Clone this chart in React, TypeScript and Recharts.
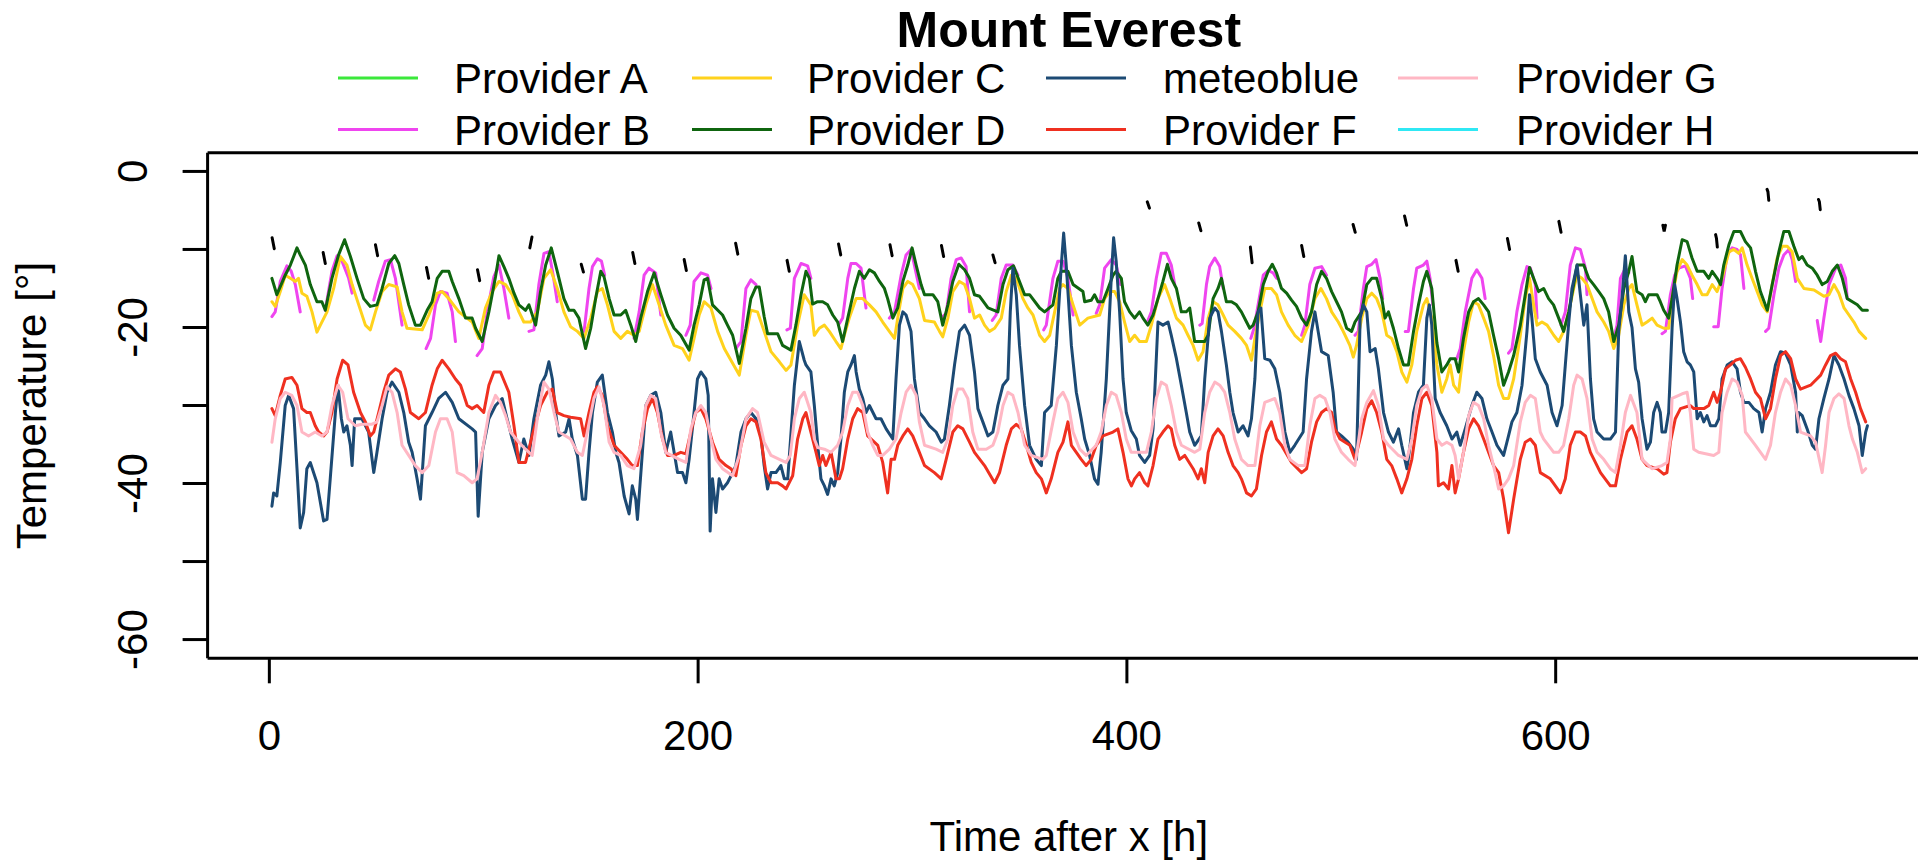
import React from 'react';
import { LineChart, Line, XAxis, YAxis, ReferenceLine, Legend, Label } from 'recharts';

type Pt = [number, number];

const chartTitle = 'Mount Everest';
const xTitle = 'Time after x [h]';
const yTitle = 'Temperature [°]';
const seriesNames = ['Provider A', 'Provider B', 'Provider C', 'Provider D', 'meteoblue', 'Provider F', 'Provider G', 'Provider H'];
const seriesColors = ['#3be83b', '#ef45ef', '#ffd21c', '#0f650f', '#1c4a74', '#ef3020', '#ffb7c4', '#2fe8f4'];
const xTicks = [0, 200, 400, 600];
const yTicks = [0, -10, -20, -30, -40, -50, -60];
const yLabelled = [0, -20, -40, -60];

const providerA: Pt[] = [];
const providerH: Pt[] = [];

const providerB: Pt[][] = [
  [[1.2,-18.6],[2.75,-18],[5.1,-14.1],[8.2,-12.1],[10.2,-12.8],[12.1,-14.5],[14.4,-18]],
  [[26.1,-17.8],[29.2,-12.8],[31.6,-10.8],[33.9,-11.5],[37,-13.7],[38.6,-15.6]],
  [[48.7,-16.5],[51,-14.1],[54.1,-11.5],[56.5,-11.3],[58.8,-13.7],[61.9,-19.7]],
  [[73.1,-22.7],[75.2,-21.4],[77.5,-17.1],[79.8,-15.4],[82.9,-15.6],[85.3,-18],[86.8,-21.8]],
  [[96.9,-23.6],[99.3,-22.7],[101.6,-18],[104.7,-13.5],[107.1,-12],[109.4,-15],[111.7,-18.8]],
  [[121.1,-20.5],[123.4,-20.3],[125.7,-14.5],[128.1,-10.5],[130.4,-10.3],[132.4,-13.3],[134.3,-16.7]],
  [[146.8,-20.5],[149.1,-15],[150.7,-12.2],[153,-11.2],[154.9,-11.5],[156.4,-13.3]],
  [[170.1,-21.4],[172.5,-18],[174.8,-13.3],[177.1,-12.4],[180.2,-13],[182.6,-18.4]],
  [[194.3,-21],[196.3,-19.7],[198.1,-14.1],[201.3,-13],[204.4,-13.3],[206,-15]],
  [[217.6,-22.7],[220,-21.8],[222.3,-15],[224.6,-13.9],[227,-14.5]],
  [[241.4,-20.3],[243,-20.1],[244.9,-13.7],[248,-11.8],[251.1,-12.1],[252.6,-13.7]],
  [[265.9,-19.5],[267.4,-18.8],[269.8,-13.7],[271.3,-11.8],[273.7,-11.8],[276,-12.4],[278.3,-17.5]],
  [[289.2,-18.8],[291.6,-18],[294.7,-13.3],[297,-10.7],[299.3,-10],[303.2,-15]],
  [[314.1,-18.6],[315.7,-18.2],[318,-13.7],[320.4,-11.3],[322.7,-11.1],[325,-12.2],[326.6,-18]],
  [[337.2,-19.1],[339,-18.4],[341.4,-13.7],[343.7,-12],[346.8,-12],[349.2,-13.3]],
  [[361.2,-20.3],[362.4,-19.7],[365.5,-13.7],[367.8,-11.5],[370.2,-11.5],[372.5,-13.7],[374.9,-18.4]],
  [[385.7,-18.2],[387.3,-17.1],[389.6,-12.4],[392.7,-11.3],[395,-12],[397.1,-14.5]],
  [[409.8,-19.1],[411.4,-18],[413.7,-13.7],[416,-10.5],[418.4,-10.5],[420.7,-12],[422.3,-14.5]],
  [[434,-19.7],[435.1,-19.5],[437.1,-14.5],[438.6,-12.2],[441,-11.1],[443.3,-12.2],[444.9,-15]],
  [[457.8,-21.4],[459.3,-20.1],[461.2,-17.1],[463.6,-13.3],[465.9,-12.7],[468.2,-13],[469.8,-13.7]],
  [[481.5,-21],[483,-19.7],[485.3,-14.5],[487.7,-12.4],[490.8,-12.2],[493.1,-13.3]],
  [[506.4,-21],[507.9,-20.5],[510.3,-15],[511.9,-12.2],[514.2,-11.9],[516.2,-11.3],[518.1,-13.7],[519.3,-16.3]],
  [[529.8,-20.5],[531.3,-20.5],[533.7,-15],[535.2,-12.4],[538.3,-12],[539.9,-11.5],[541.4,-13.7],[542.7,-17.1]],
  [[553.9,-24],[555.5,-22.7],[557.8,-18],[560.9,-13.7],[563.2,-12.6],[565.6,-13.7],[567.1,-16.3]],
  [[578,-23.3],[579.6,-22.7],[581.9,-18],[584.3,-14.5],[586.6,-12.2],[588.2,-12.4],[590.5,-14.5],[591.3,-18.8]],
  [[602.5,-19.7],[604.5,-18],[606.8,-12],[609.2,-9.8],[611.5,-10],[613.9,-12.4],[614.6,-15.8]],
  [[627.1,-21.4],[628.6,-19.7],[630.2,-13.7],[632.5,-12.4],[634.1,-13]],
  [[649.6,-20.8],[651.2,-20.5],[653.5,-15.8],[655.5,-13.3],[657.4,-12.4],[660.5,-12.1],[662.8,-13.7],[663.9,-16.3]],
  [[673.7,-19.9],[675.8,-19.9],[677.6,-15],[680,-10.7],[682.3,-9.8],[684.6,-10],[686.2,-10.7],[687.8,-15]],
  [[697.9,-20.5],[699.4,-20.1],[701.8,-15.8],[704.1,-12.4],[706.4,-10.7],[708.8,-10],[710.3,-11.3],[711.9,-14.1]],
  [[722,-19.1],[723.6,-21.8],[725.1,-18.8],[727.5,-14.5],[730.6,-12.4],[733,-12],[735.2,-13.7],[736,-16.3]],
];

const providerC: Pt[] = [
  [1.2,-16.7],[2.75,-17.3],[5.1,-15.4],[7.4,-13.3],[9.8,-13.7],[12.1,-14.1],[13.6,-13.7],[15.2,-15.6],[17.5,-16],[19.9,-18],[22.2,-20.6],[23.8,-19.7],[26.9,-18],[30,-15],[33.1,-10.9],[36.2,-12],[38.6,-14.5],[41.7,-17.1],[44.8,-19.7],[47.1,-20.3],[49.5,-18],[52.6,-15.4],[55.7,-14.5],[59.6,-14.8],[61.9,-18],[64.2,-20.1],[71.3,-20.3],[74.4,-18.4],[78.3,-15.6],[80.6,-15.4],[83.7,-16.3],[88.4,-18],[94.6,-19.3],[97.7,-21.4],[100.8,-17.5],[103.9,-15.4],[107.1,-14.1],[110.2,-14.5],[113.3,-15.8],[116.4,-18],[118.7,-19.3],[121.9,-19.3],
  [125,-18],[128.1,-13.7],[131.2,-12.6],[134.3,-15],[137.4,-18],[140.5,-19.9],[143.7,-20.5],[146.8,-21.4],[149.9,-18.8],[153,-15.4],[155.3,-15],[157.7,-17.1],[160.8,-20.5],[163.9,-21.4],[167,-20.5],[170.1,-21],[172.5,-20.5],[175.6,-17.1],[178.7,-14.5],[181.8,-17.1],[184.9,-19.7],[188.8,-22.3],[192.7,-22.7],[195.8,-24.2],[198.1,-21.4],[200.5,-18.4],[202.8,-16.7],[206,-17.5],[209.1,-20.5],[212.2,-22.7],[215.3,-24.2],[219.2,-26.1],[222.3,-21],[224.6,-17.8],[227.7,-18],[230.8,-20.5],[234,-23.1],[237.9,-24.4],[241,-25.5],[243.3,-24.8],[246.4,-19.7],[249.5,-15.8],[252.6,-17.1],
  [254.2,-21],[256.5,-20.1],[258.9,-19.7],[261.2,-20.5],[264.3,-21.8],[266.6,-22.7],[268.2,-21],[270.5,-18.8],[273.7,-16.3],[276.8,-16.3],[279.9,-17.1],[283,-18],[286.1,-19.3],[289.2,-20.5],[291.6,-21.4],[293.1,-18.8],[295.5,-15],[297.8,-14.1],[300.1,-14.5],[303.2,-16.3],[305.6,-19.1],[310.2,-19.3],[312.6,-20.5],[314.1,-21.2],[316.5,-18.8],[318.8,-15.4],[321.9,-14.1],[324.3,-14.5],[326.6,-16.3],[328.9,-18.8],[331.3,-18.4],[333.6,-19.7],[335.9,-20.5],[338.3,-20.1],[341.4,-18.8],[343.7,-15.4],[346.1,-13.3],[348.4,-13.7],[351.5,-16.3],[353.8,-17.5],[356.2,-18.4],[359.3,-21],[361.6,-21.8],[364,-21],[366.3,-18],[368.6,-15],[370.2,-14.5],[372.5,-15],[374.9,-17.1],[378,-19.7],
  [381.8,-18.8],[387.3,-18.4],[389.6,-16.3],[391.9,-15.4],[394.3,-15.4],[396.6,-16.7],[398.9,-19.3],[401.3,-21.8],[403.6,-21],[405.9,-21.8],[409.1,-21.8],[411.4,-19.7],[414.5,-16.3],[417.6,-14.5],[420,-16.3],[423.1,-18.8],[426.2,-19.7],[428.5,-21],[430.9,-22.3],[433.2,-24.2],[435.5,-23.1],[437.9,-18.8],[440.2,-16.7],[442.5,-17.1],[444.9,-18.4],[447.2,-19.7],[450.3,-20.5],[453.4,-21.4],[455.8,-22.3],[458.1,-24.2],[459.7,-21.4],[462,-18],[464.3,-15],[467.4,-15],[469.8,-15.8],[472.1,-18],[475.2,-19.7],[478.3,-21],[481.5,-21.8],[484.6,-19.7],[487.7,-16.3],[490.5,-15],[493.1,-16.3],[495.5,-18],[498.6,-19.3],[500.9,-20.5],[504,-22.3],[505.6,-23.8],[507.1,-22.3],
  [509.5,-18.8],[511.9,-16.3],[514.2,-15.6],[516.5,-16.3],[518.9,-18],[521.2,-21],[523.5,-21.4],[525.9,-23.1],[528.2,-25.7],[530.6,-27],[532.9,-24.8],[535.2,-20.5],[538.3,-17.1],[539.9,-16.3],[542.2,-18.8],[544.6,-24.8],[546.9,-28.3],[549.2,-26.6],[550.8,-24.8],[552.4,-27.4],[554.7,-28.3],[557,-23.1],[559.4,-19.3],[561.7,-16.7],[564,-17.1],[566.4,-18.8],[568.7,-20.5],[571,-23.6],[573.4,-27.4],[575.7,-29.1],[578,-29.1],[580.4,-26.6],[583.5,-21],[585.8,-16.3],[587.8,-13.7],[589.7,-17.1],[591.3,-19.7],[593.6,-19.3],[596,-19.7],[599.1,-21],[601.4,-21.8],[603.7,-20.5],[606.1,-18],[608.4,-15],[610,-13.3],[612.3,-13.7],[614.6,-14.5],[617,-16.3],[619.3,-18],[622.4,-19.3],[624.7,-20.5],[627.1,-22.7],[629.4,-21],[631.8,-17.1],[634.1,-15],[635.6,-14.5],
  [637.9,-17.1],[640.3,-19.7],[642.6,-19.3],[645,-18.8],[647.3,-19.7],[650.4,-20.1],[652.7,-20.1],[654.3,-16.3],[656.6,-12.8],[659,-11.3],[661.3,-12],[663.6,-13.3],[666,-14.5],[668.3,-15.8],[670.6,-15.8],[673,-14.5],[675.3,-15.4],[677.6,-13.7],[680.8,-10.3],[683.1,-10],[685.4,-10.5],[687,-9.8],[689.3,-12],[691.6,-13.7],[694,-15.4],[696.3,-17.1],[698.7,-18],[701,-14.5],[703.3,-11.1],[705.7,-9.6],[708,-9.6],[710.3,-10.3],[712.7,-13.7],[715.8,-15],[720.5,-15.2],[725.1,-16],[727.5,-15.8],[729.8,-14.5],[732.1,-15.6],[734.5,-17.5],[736.8,-18.4],[739.1,-19.3],[741.5,-20.5],[744.6,-21.4],
];

const providerD: Pt[] = [
  [1.2,-13.7],[3.5,-15.8],[7.4,-13.3],[9.8,-12],[12.9,-9.8],[14.4,-10.7],[16.8,-12],[19.1,-14.5],[22.2,-16.7],[24.5,-16.7],[26.1,-17.8],[29.2,-13.7],[32.3,-10.7],[35.1,-8.75],[37.8,-10.9],[40.9,-13.7],[44,-16.3],[47.1,-17.3],[50.2,-17.1],[52.6,-15],[55.7,-11.8],[58.5,-10.8],[60.4,-11.8],[62.7,-14.5],[65,-17.1],[68.1,-19.7],[70.5,-19.7],[73.6,-17.8],[75.9,-16.7],[78.3,-13.7],[80.6,-12.8],[83.7,-12.8],[85.3,-14.1],[88.4,-16.3],[91.5,-18.8],[94.6,-18.8],[96.2,-20.1],[99.3,-21.8],[102.4,-18],[105.5,-13.5],[107.1,-10.8],[109.4,-12.2],[111.7,-13.7],[114.1,-15.6],[116.4,-17.1],[119.5,-17.8],[121.1,-17.1],
  [124.2,-19.7],[126.5,-15.4],[128.9,-12],[131.5,-9.8],[134.3,-12.8],[137.4,-16.3],[139.8,-17.8],[142.1,-17.8],[144.4,-18.8],[147.5,-22.7],[149.9,-20.1],[152.2,-16.3],[154.6,-12.8],[156.1,-13.5],[158.5,-16.3],[160.8,-18.4],[163.9,-18.4],[166.2,-17.8],[168.6,-19.7],[170.9,-21.8],[173.2,-18.8],[176.4,-15.4],[179.5,-13],[182.6,-15.8],[185.7,-18.4],[188.8,-20.1],[191.9,-21],[195.8,-22.9],[198.1,-19.7],[200.5,-17.1],[202.8,-13.9],[204.4,-13.7],[206.7,-17.1],[211.4,-18.4],[213.7,-19.7],[216.1,-21],[219.2,-24.6],[222.3,-20.1],[224.6,-16.3],[227,-14.8],[228.5,-14.8],[230.8,-18.6],[232.4,-20.8],[237.1,-20.8],[239.4,-22.3],[243.3,-22.9],[245.6,-19.7],[248,-15.8],
  [250.3,-12.8],[251.9,-13.7],[253.4,-17],[255.7,-16.7],[258.1,-16.7],[260.4,-17.1],[262.8,-18.4],[265.1,-19.3],[267.4,-21.8],[269.8,-18.8],[272.9,-15],[275.2,-12.8],[277.5,-13.7],[279.9,-12.6],[282.2,-13],[284.6,-14.1],[286.9,-15],[288.4,-16.3],[290.8,-18.8],[293.1,-17.5],[295.5,-14.1],[297.8,-12],[299.8,-9.8],[301.7,-12],[304,-14.5],[305.6,-15.8],[309.5,-15.8],[311.8,-16.7],[314.1,-19.7],[316.5,-17.1],[318.8,-14.1],[321.6,-11.9],[324.3,-12.6],[326.6,-13.7],[328.9,-15.8],[331.3,-16],[335.2,-17.5],[339.8,-18],[342.2,-14.5],[344.5,-12.6],[347.1,-12.1],[349.9,-14.1],[352.3,-15.8],[354.6,-15.8],[359.3,-17.5],[361.6,-18],[365.5,-17.1],[367.8,-13.7],[369.4,-12.8],[372.5,-12.8],[374.9,-14.5],[379.5,-15.4],
  [380.3,-16.7],[383.4,-16.5],[384.9,-15.8],[386.5,-16.7],[388.8,-16.7],[391.2,-15],[393.5,-13.3],[395,-12.8],[397.4,-13.7],[398.9,-16.7],[401.3,-18],[403.6,-18.8],[405.9,-18],[407.5,-18.8],[409.8,-19.7],[412.2,-18.4],[414.5,-16.3],[416.8,-14.1],[418.9,-11.9],[420.7,-13.7],[423.1,-15],[425.4,-18],[427.7,-18],[429.3,-17.5],[431.6,-21.8],[436.3,-21.8],[437.9,-21],[440.2,-16.3],[442.5,-15],[444.1,-13.7],[446.4,-16.7],[448.8,-16.7],[451.1,-17.1],[453.4,-18],[455.8,-19.3],[457.3,-20.1],[458.9,-19.7],[461.2,-18],[463.6,-14.5],[465.9,-12.8],[467.8,-11.9],[469.8,-13],[472.1,-15],[474.5,-15.6],[476.8,-16.5],[479.1,-17.3],[481.5,-18.8],[483.8,-19.7],[486.1,-18],[488.5,-14.5],[490.8,-12.8],[493.1,-13.7],[495.5,-15.4],[497.8,-16.7],[500.1,-18],[502.5,-20.1],[504.8,-20.5],[506.4,-19.3],
  [509.5,-18],[511.9,-14.5],[514.2,-13.7],[516.5,-13.7],[518.9,-16.3],[520.4,-18.8],[522,-18],[524.3,-20.1],[526.7,-22.7],[529,-24.8],[531.3,-24.8],[533.7,-20.5],[536,-17.1],[538.3,-14.1],[539.9,-12.8],[542.2,-15],[544.6,-22],[546.9,-25.7],[549.2,-24.8],[550.8,-24],[553.1,-24],[554.7,-25.7],[557,-21.4],[559.4,-18],[561.7,-16.7],[564,-16.3],[566.4,-17.1],[568.7,-18],[571,-21],[573.4,-24],[575.7,-27.4],[578,-25.7],[580.4,-23.6],[583.5,-19.7],[585.8,-15.8],[587.8,-12.3],[589.7,-13.7],[592,-15.4],[594.4,-15],[596.7,-16.3],[599,-17.1],[601.4,-18.8],[603.7,-20.5],[606.1,-18],[608.4,-14.5],[610,-12],[613.1,-12],[615.4,-13.7],[617.7,-14.5],[620.1,-15.4],[622.4,-16.3],[624.7,-18],[627.1,-21.8],[629.4,-19.7],[631.8,-15],[634.1,-12.8],[635.6,-10.9],
  [637.9,-15.4],[640.3,-15.8],[641.8,-16.7],[643.4,-15.8],[647.3,-15.8],[648.8,-16.7],[650.4,-17.8],[652.7,-18.8],[654.3,-16.3],[656.6,-12],[659,-8.75],[661.3,-9],[663.6,-11.1],[666,-12.8],[669.1,-12.8],[671.4,-13.7],[673,-12.8],[675.3,-13.7],[676.9,-14.5],[678.4,-12],[680.8,-9.4],[683.1,-7.7],[686.2,-7.7],[688.5,-9],[690.9,-9.8],[693.2,-12.8],[695.5,-15.4],[698.7,-17.8],[701,-14.5],[704.1,-10.3],[706.4,-7.7],[708.8,-7.7],[711.1,-9.6],[713.4,-11.3],[715,-10.9],[717.3,-12],[719.7,-12.4],[722,-13.3],[724.3,-14.5],[726.7,-14.1],[729,-12.8],[731.4,-12],[733.7,-13.7],[736,-16.3],[738.4,-16.7],[740.7,-17.1],[743,-17.8],[745.4,-17.8],
];

const meteoblue: Pt[] = [
  [1.2,-42.9],[2,-41.2],[3.5,-41.6],[5.1,-37.3],[7.4,-30],[9,-28.7],[11.3,-30.4],[12.9,-38.1],[14.4,-45.7],[16,-43.7],[17.5,-38.1],[19.1,-37.3],[22.2,-39.9],[25.3,-44.8],[26.9,-44.6],[28.4,-39.4],[30.8,-30.9],[32,-27.4],[33.6,-31.7],[34.7,-33.4],[36.2,-32.6],[37.8,-35.1],[38.6,-37.7],[39.8,-31.7],[43.2,-31.7],[46.3,-33.4],[48.7,-38.6],[50.2,-36],[52.6,-31.7],[54.9,-28.3],[57.2,-27],[60.4,-28.3],[62.7,-30.9],[65,-34.7],[66.6,-36],[68.9,-39.4],[70.5,-42],[72.8,-32.6],[75.9,-30.9],[79,-29.1],[82.2,-28.3],[85.3,-29.6],[88.4,-31.7],[94.6,-33],[96.2,-33.4],[97.4,-44.2],[99.3,-36],[102.4,-31.7],[105.5,-30],[108.6,-29.1],[110.9,-31.7],[113.3,-34.3],[116.4,-37.3],[118.7,-34.3],[121.1,-36.4],
  [123.4,-31.7],[126.5,-27.4],[128.9,-26.1],[130.4,-24.4],[132,-26.6],[133.5,-30.9],[135.1,-33.9],[138.2,-33.4],[139.8,-31.7],[141.3,-34.3],[143.7,-36.4],[146,-42],[147.5,-42],[149.1,-36],[150.7,-30.9],[153,-27],[155.3,-26.1],[157.7,-30.9],[160,-33.4],[161.6,-36],[163.1,-37.3],[165.5,-41.6],[167.8,-43.9],[169.3,-40.3],[170.9,-42],[171.7,-44.6],[174,-36],[175.6,-30],[177.9,-28.7],[180.2,-28.3],[182.6,-30.9],[184.9,-36],[187.2,-33.4],[190.4,-38.6],[192.7,-38.6],[194.3,-39.9],[195.8,-36.9],[198.1,-30.9],[199.7,-26.6],[201.3,-25.7],[203.6,-26.6],[204.7,-28.7],[205.6,-46.1],[206.7,-39.4],[208.3,-43.7],[209.8,-39.4],[211.4,-40.7],[213.7,-39.9],[216.1,-38.6],[217.6,-37.7],[220,-33.4],[222.3,-31.7],[224.6,-30.9],[227,-31.7],[229.3,-33.9],[230.8,-37.7],[232.4,-40.7],[234,-38.6],[236.3,-38.6],[238.6,-37.7],[240.2,-39.4],[241.8,-39.4],[244.9,-27.4],[247.2,-21.8],[249.5,-24.2],
  [250.3,-24.8],[252.6,-25.7],[254.2,-30],[255.8,-35.1],[257.3,-39.4],[258.9,-40.3],[260.4,-41.4],[262,-39.4],[263.5,-40.3],[265.1,-38.6],[266.6,-34.3],[268.2,-28.3],[269.8,-25.7],[271.3,-24.8],[272.9,-23.6],[273.7,-25.7],[275.2,-27.9],[276.8,-29.1],[278.3,-30.9],[279.9,-30],[283,-31.7],[285.3,-31.7],[287.7,-33],[290.8,-34.3],[292.3,-26.6],[293.9,-19.7],[295.5,-18],[297,-18.4],[299.3,-20.5],[300.9,-26.6],[303.2,-30.9],[305.6,-31.7],[307.9,-32.6],[311,-33.4],[313.4,-34.7],[314.9,-34.3],[317.2,-30],[319.6,-24.8],[321.9,-20.5],[324.3,-19.7],[326.6,-21],[328.9,-25.7],[330.5,-30.4],[332.8,-32.1],[335.2,-33.9],[337.5,-33.4],[339.8,-30],[342.2,-27.4],[344.5,-26.6],[345.6,-18],[346.8,-12.4],[348.4,-15.8],[349.9,-22.3],[352.3,-30],[354.6,-35.1],[357.7,-36.9],[360.1,-37.7],[361.6,-30.9],[364.7,-30],[367.1,-22.3],[369.4,-12],[370.5,-7.9],[371.7,-12],[374.1,-22.3],[376.4,-28.3],[378.7,-31.7],
  [380.3,-34.3],[382.6,-36.4],[384.9,-39.4],[386.5,-40.1],[388,-36],[390.4,-26.6],[392.7,-13.7],[393.8,-8.5],[395,-11.5],[396.6,-18],[398.2,-26.6],[399.7,-30.9],[402,-33.2],[404.4,-34.3],[405.9,-36.4],[408.3,-37.3],[410.6,-36.4],[412.2,-33],[414.5,-19.3],[416.8,-19.7],[419.2,-19.3],[420.7,-21],[423.1,-24],[425.4,-27.4],[427.7,-30.9],[429.3,-33.4],[431.6,-35.1],[434.7,-33.9],[436.3,-26.6],[438.6,-18.8],[441,-17.5],[442.5,-18],[444.1,-20.5],[446.4,-24.8],[448,-28.3],[449.5,-30.9],[451.9,-33.4],[454.2,-32.6],[456.5,-33.9],[458.1,-31.7],[459.7,-26.6],[461.2,-18],[462.5,-17.5],[464.3,-24],[466.7,-24.2],[469,-25.3],[471.3,-28.3],[473.7,-33.4],[476,-36],[478.3,-35.1],[482.2,-33.4],[483.8,-26.6],[486.1,-20.5],[487.7,-18],[489.2,-20.5],[490.8,-23.1],[493.9,-23.6],[496.2,-28.3],[497.8,-33.4],[500.1,-33.9],[503.2,-34.7],[505.6,-35.6],[507.1,-36.9],
  [508.8,-18.8],[510.3,-17.1],[511.9,-18],[513.4,-23.1],[515.8,-22.7],[517.3,-25.3],[519.7,-30.9],[522,-33.4],[524.3,-34.7],[526.7,-33],[528.2,-35.1],[530.6,-38.1],[532.1,-35.1],[533.7,-30.9],[536,-28.3],[538.3,-27.4],[539.9,-18.8],[541.1,-17.1],[542.2,-19.7],[543.8,-29.1],[546.1,-30.9],[549.2,-32.6],[551.6,-34.3],[553.9,-33.4],[555.5,-35.1],[557.8,-33],[560.9,-30],[563.2,-28.3],[565.6,-29.1],[567.9,-31.7],[570.3,-33.4],[572.6,-35.1],[575.7,-36.4],[578,-33.9],[579.6,-32.1],[581.9,-30.9],[584.3,-27.4],[586.6,-20.5],[587.8,-15.8],[588.9,-18.8],[590.5,-24],[592.8,-25.7],[596,-27.4],[598.3,-30.9],[600.6,-32.6],[603,-30],[604.5,-24.8],[606.1,-19.3],[607.6,-15],[610,-12],[611.5,-15.8],[613.1,-19.7],[614.6,-17.1],[616.2,-26.6],[617.7,-31.7],[619.3,-33.4],[622.4,-34.3],[625.5,-34.3],[627.9,-33.4],[629.4,-20.5],[631,-16],[632.5,-10.8],[634.1,-18],[635.6,-20],
  [637.2,-25.3],[638.7,-27],[640.3,-31.7],[641.8,-34.3],[642.6,-35.6],[644.2,-34.7],[645.7,-30.9],[647.3,-29.6],[648.8,-30.9],[649.6,-33.4],[651.2,-33.4],[652.7,-30.9],[654.3,-20.1],[655.5,-14.5],[656.6,-16.3],[658.2,-19.3],[659.7,-23.1],[661.3,-24.4],[662.8,-24.8],[664.4,-25.7],[666,-31.7],[667.5,-30.9],[669.1,-32.1],[670.6,-31.3],[672.2,-32.6],[674.5,-32.6],[676.1,-31.7],[677.6,-26.6],[680,-24.8],[682.3,-24.4],[684.6,-25.3],[686.2,-28.3],[687.8,-29.6],[690.1,-29.6],[692.4,-30.4],[694.8,-30.9],[696.3,-33.4],[697.9,-30.4],[700.2,-28.3],[702.5,-24.8],[704.9,-23.1],[707.2,-23.3],[709.6,-24.8],[711.9,-28.3],[712.7,-33.4],[713.4,-30.9],[715,-31.3],[717.3,-33],[719.7,-35.1],[721.2,-35.6],[722.8,-31.7],[725.1,-29.1],[727.5,-26.6],[729.8,-23.6],[732.1,-24.8],[734.5,-26.6],[736.8,-28.7],[739.1,-30.4],[741.5,-32.6],[743,-36.4],[744.6,-33.4],[745.4,-32.6],
];

const providerF: Pt[] = [
  [1.2,-30.4],[2.75,-31.3],[5.1,-28.7],[7.4,-26.6],[10.5,-26.4],[12.9,-27.4],[15.2,-30.4],[17.5,-30.9],[19.1,-30.9],[21.4,-32.6],[23,-33.4],[25.3,-33.9],[26.9,-33.4],[29.2,-30.9],[31.6,-26.6],[34.2,-24.2],[36.7,-24.8],[39.3,-28.3],[42.5,-30.9],[44.8,-32.1],[47.1,-33.9],[48.7,-33.4],[51,-30.9],[53.3,-28.3],[55.7,-26.1],[58.8,-25.3],[61.1,-25.7],[63.5,-27.9],[65.8,-30.9],[69.7,-31.7],[72.8,-30.9],[75.9,-27.4],[78.3,-25.3],[80.6,-24.2],[83.7,-25.3],[86.8,-26.6],[89.2,-27.4],[92.3,-30],[94.6,-30.4],[96.9,-30],[100,-30.9],[102.4,-27.4],[104.7,-25.7],[107.8,-25.7],[111.7,-28.3],[114.1,-32.6],[116.4,-37.3],[119.5,-37.3],[122.6,-33.9],
  [126.5,-30],[129.6,-28.3],[132,-27.9],[134.3,-30.9],[137.4,-31.3],[140.5,-31.5],[145.2,-31.7],[146.8,-33.9],[149.1,-30.9],[151.4,-28.3],[153,-27.6],[155.3,-28.7],[157.7,-32.6],[160.8,-35.1],[163.9,-36],[167,-36.9],[169.3,-37.7],[171.7,-37.7],[174,-33.4],[176.4,-30.4],[178.7,-29.1],[181,-30.9],[183.4,-34.3],[185.7,-36.4],[188.8,-36.4],[191.9,-36],[194.3,-36.2],[196.6,-33.4],[198.9,-30.9],[201.3,-30.4],[203.6,-31.7],[206.7,-34.7],[209.8,-36.9],[213,-37.7],[215.3,-38.1],[217.6,-39],[220,-35.1],[222.3,-32.6],[224.6,-31.7],[227,-32.1],[229.3,-34.3],[231.6,-38.6],[234,-39.9],[237.1,-39.9],[239.4,-40.3],[241,-40.7],[244.1,-39],[246.4,-34.3],[248.8,-31.7],
  [250.3,-30.9],[252.6,-33.4],[255,-36],[256.5,-37.7],[258.1,-36.4],[259.6,-37.7],[262,-36],[264.3,-39.4],[265.9,-39.4],[267.4,-38.1],[269.8,-34.3],[272.1,-31.7],[274.4,-30.4],[276.8,-30.9],[279.1,-33.9],[283.8,-35.1],[286.1,-37.3],[288.4,-41.2],[290,-36.9],[291.6,-36.9],[293.1,-35.1],[295.5,-33.9],[297.8,-33],[300.1,-33.9],[303.2,-36],[305.6,-37.7],[310.2,-38.6],[313.4,-39.4],[315.7,-36.9],[318.8,-33.4],[321.1,-32.6],[323.5,-33],[326.6,-34.7],[328.9,-36],[333.6,-37.7],[338.3,-39.9],[340.6,-38.6],[343.7,-35.1],[346.1,-33],[348.4,-32.4],[350.7,-33],[353.1,-35.1],[355.4,-37.3],[357.7,-38.6],[360.1,-39.4],[362.4,-41.2],[364.7,-39.4],[367.8,-36],[370.2,-34.7],[372.5,-32.1],[374.1,-35.1],[376.4,-36],
  [378.7,-36.9],[381,-37.7],[383.4,-36.9],[385.7,-35.1],[388.8,-33.9],[393.5,-33.4],[395.8,-33],[398.2,-36],[400.5,-39.4],[402.1,-40.3],[403.6,-39.4],[405.9,-38.6],[408.3,-39.9],[409.8,-40.3],[412.2,-37.7],[414.5,-34.3],[416.8,-33.4],[419.2,-32.6],[420.7,-33],[422.3,-35.1],[424.6,-36.9],[427,-36.4],[430.9,-38.1],[433.2,-39.4],[434.7,-38.1],[436.3,-39.9],[437.9,-36],[440.2,-33.9],[442.5,-33],[444.9,-33.9],[447.2,-36],[449.5,-37.7],[451.9,-38.6],[453.4,-39.4],[455.8,-41.2],[458.1,-41.6],[460.4,-40.7],[462.8,-36.4],[465.1,-33.4],[467.4,-32.1],[469.8,-34.3],[472.1,-35.1],[476.8,-37.3],[481.5,-38.6],[483.8,-38.1],[486.1,-34.7],[488.5,-32.1],[490.8,-30.9],[493.1,-30.4],[495.5,-30.9],[497,-33],[499.4,-34.3],[504,-35.1],[506.4,-36.9],
  [509.5,-33.4],[511.9,-30.4],[514.2,-29.4],[516.5,-30.9],[518.9,-33.4],[521.2,-36.9],[523.5,-37.7],[525.9,-39.4],[528.2,-41.2],[530.6,-39.4],[532.9,-36.9],[535.2,-32.6],[537.6,-29.1],[539.9,-28.3],[542.2,-30],[544.6,-36],[545.3,-40.3],[547.7,-39.9],[550,-40.7],[551.6,-37.7],[553.1,-41.2],[554.7,-39.4],[557,-36],[559.4,-33],[561.7,-31.7],[564,-32.6],[566.4,-34.3],[568.7,-36],[571,-37.7],[573.4,-38.6],[575.7,-42],[578,-46.3],[580.4,-42],[583.5,-36.9],[585.8,-34.7],[588.2,-34.3],[590.5,-35.1],[592.8,-38.6],[597.5,-39.4],[602.2,-41.2],[604.5,-39.4],[606.8,-35.1],[609.2,-33.4],[611.5,-33.4],[613.9,-33.9],[616.2,-36],[620.9,-38.6],[625.5,-40.3],[627.9,-40.3],[630.2,-36.9],[633.3,-33.4],[635.6,-32.6],
  [637.9,-34.3],[640.3,-36.9],[642.6,-37.7],[647.3,-38.1],[650.4,-38.8],[651.9,-38.6],[653.5,-34.7],[655.8,-31.7],[658.2,-30.4],[662.8,-30],[664.4,-30.4],[669.1,-30.4],[671.4,-30],[673.7,-28.3],[675.3,-29.6],[676.9,-28.3],[679.2,-25.3],[681.5,-24.8],[683.9,-24.2],[686.2,-24],[688.5,-25.1],[690.9,-26.6],[693.2,-28.3],[695.5,-29.1],[697.9,-31.7],[700.2,-30.4],[702.5,-26.6],[704.9,-23.6],[707.2,-23.1],[709.6,-24],[711.9,-26.6],[714.2,-27.9],[718.9,-27.4],[723.6,-26.1],[725.9,-24.8],[728.2,-23.6],[730.6,-23.3],[732.9,-24],[735.2,-24.4],[737.6,-26.6],[739.9,-28.3],[742.2,-30.4],[744.6,-32.1],
];

const providerG: Pt[] = [
  [1.2,-34.7],[2.75,-31.7],[5.1,-29.1],[7.4,-28.3],[10.5,-28.7],[12.9,-30],[15.2,-33.4],[18.3,-33.9],[21.4,-33.4],[24.5,-33.9],[26.9,-33.4],[29.2,-30],[32,-27.4],[34.2,-28.3],[36.7,-31.7],[40.1,-32.6],[43.2,-32.4],[47.9,-32.4],[50.2,-32.1],[52.6,-30],[54.9,-27.6],[57.2,-28.3],[59.6,-30.9],[61.9,-35.1],[65,-36.4],[68.1,-37.7],[71.3,-38.6],[74.4,-37.7],[77.5,-33.4],[79.8,-31.7],[82.9,-31.7],[85.3,-33.4],[87.6,-38.6],[90.7,-39],[94.6,-39.9],[96.9,-39.4],[99.3,-36],[102.4,-30.9],[105.5,-28.7],[107.8,-29.6],[110.2,-31.3],[112.5,-33.4],[116.4,-34.7],[119.5,-35.6],[122.6,-36.4],
  [125,-31.7],[128.1,-27],[130.4,-27.9],[132.8,-30.9],[135.1,-33.4],[140.5,-34.3],[143.7,-36],[146,-36.4],[148.3,-33.4],[151.4,-29.1],[153.8,-27.6],[156.1,-30],[158.5,-34.7],[160.8,-36],[163.9,-36.4],[167,-37.7],[170.1,-38.1],[173.2,-35.1],[175.6,-30],[177.9,-28.7],[180.2,-29.1],[182.6,-33.4],[184.9,-36],[191.1,-36.9],[194.3,-37.3],[196.6,-33],[198.9,-30.9],[201.3,-30],[203.6,-30.9],[206,-34.3],[208.3,-36.9],[211.4,-38.1],[216.1,-39],[219.2,-36.4],[222.3,-31.7],[225.4,-30.4],[227.7,-30.9],[230.8,-34.7],[234,-36.4],[237.9,-36.9],[241,-37.3],[243,-36.4],[244.9,-31.7],[247.2,-29.1],[249.5,-28.3],
  [252.6,-30.9],[254.2,-34.3],[255.8,-35.4],[258.9,-35.6],[262,-36],[265.1,-35.1],[267.4,-33.4],[269.8,-30],[272.1,-28.3],[274.4,-28.3],[276.8,-30],[279.1,-33.4],[281.4,-35.1],[283.8,-36.4],[286.1,-36.4],[289.2,-35.6],[292.3,-34.3],[294.7,-30.9],[297,-28.3],[299.3,-27.4],[301.7,-28.7],[303.2,-32.1],[305.6,-35.1],[311,-35.6],[314.1,-36],[316.5,-34.3],[318.8,-30],[321.1,-27.9],[323.5,-27.9],[325.8,-29.1],[328.1,-33.4],[330.5,-35.6],[334.4,-35.6],[337.5,-35.1],[339.8,-33.4],[342.2,-30],[344.5,-28.3],[346.8,-28.7],[349.2,-30.9],[352.3,-35.1],[355.4,-36.4],[360.8,-36.9],[362.4,-36.4],[365.5,-32.1],[367.8,-29.1],[370.2,-28.3],[372.5,-29.6],[374.9,-33.4],[378,-35.6],
  [381,-36.4],[385.7,-35.1],[388,-33.4],[390.4,-30],[392.7,-28.3],[395,-28.7],[397.4,-30.9],[399.7,-34.3],[402,-36],[409.1,-36],[411.4,-33.4],[413.7,-29.1],[416,-27],[418.4,-27.4],[420.7,-30],[423.1,-33.4],[425.4,-35.1],[431.6,-36],[434,-35.6],[436.3,-30.9],[438.6,-28.3],[441,-27],[443.3,-27.4],[445.6,-28.3],[448,-30.9],[450.3,-34.3],[453.4,-36.9],[456.5,-37.7],[459.7,-37.7],[462,-32.6],[464.3,-29.6],[469,-29.1],[471.3,-30.9],[473.7,-35.1],[476,-36.9],[479.9,-37.7],[483,-37.7],[485.3,-32.6],[487.7,-29.1],[490,-28.7],[492.4,-29.1],[494.7,-30.9],[497,-34.3],[500.1,-36],[503.2,-36.9],[506.4,-37.7],
  [509.5,-31.7],[511.9,-29.6],[515,-28.1],[517.3,-30],[519.7,-34.3],[522,-35.1],[526.7,-36.4],[530.6,-36.9],[532.9,-34.3],[535.2,-30],[537.6,-27.9],[539.9,-27.4],[542.2,-29.1],[544.6,-34.3],[546.9,-35.1],[549.2,-34.7],[551.6,-35.1],[553.1,-36.4],[554.7,-39.4],[557,-36],[559.4,-31.3],[561.7,-29.6],[564,-30],[566.4,-31.7],[568.7,-35.1],[571,-37.7],[573.4,-40.7],[575.7,-40.3],[578,-39.4],[580.4,-37.7],[583.5,-32.1],[585.8,-29.6],[588.2,-28.7],[590.5,-29.1],[592.8,-33.4],[594.4,-34.3],[599.1,-36],[601.4,-36],[603.7,-35.1],[606.1,-31.7],[608.4,-27.4],[610,-26.1],[612.3,-26.6],[614.6,-29.1],[617,-34.3],[619.3,-36],[622.4,-36.9],[625.5,-38.1],[627.9,-38.6],[630.2,-35.1],[632.5,-30.9],[634.9,-28.7],
  [637.9,-30.9],[640.3,-36.9],[644.9,-38.1],[649.6,-37.7],[651.9,-37.3],[653.5,-34.3],[654.3,-29.1],[659,-28.5],[661.3,-28.3],[662.8,-30.9],[664.4,-35.6],[666.7,-36],[673.7,-36.4],[676.1,-36],[677.6,-30.9],[680,-28.3],[682.3,-26.6],[684.6,-27],[687,-28.7],[688.5,-33.4],[693.2,-35.1],[697.9,-36.9],[700.2,-35.1],[702.5,-30.9],[704.9,-28.3],[707.2,-26.6],[709.6,-27.4],[711.9,-30],[714.2,-33.4],[718.9,-33.9],[721.2,-34.7],[724.3,-38.6],[725.9,-35.1],[727.5,-30.9],[729.8,-29.1],[732.1,-28.5],[734.5,-29.1],[736.8,-32.6],[738.4,-34.3],[740.7,-36],[743,-38.6],[744.6,-38.1],
];

const blackMarks: Pt[][] = [
  [[1.3,-8.5],[2.3,-9.9]],[[25.1,-10.4],[26.1,-11.8]],[[49.5,-9.4],[50.5,-10.8]],[[73.3,-12.3],[74.3,-13.7]],
  [[97.1,-12.6],[98.1,-14]],[[121.5,-9.8],[122.5,-8.4]],[[145.5,-11.9],[146.5,-12.9]],[[169.5,-10.4],[170.5,-11.8]],
  [[193.5,-11.3],[194.5,-12.7]],[[217.5,-9.2],[218.5,-10.6]],[[241.5,-11.4],[242.5,-12.8]],[[265.5,-9.3],[266.5,-10.7]],
  [[289.5,-9.4],[290.5,-10.8]],[[313.5,-9.5],[314.5,-10.9]],[[337.5,-10.7],[338.5,-11.7]],[[409.5,-3.9],[410.5,-4.7]],
  [[433.5,-6.6],[434.5,-7.6]],[[457.6,-9.7],[458.4,-11.7]],[[481.5,-9.5],[482.5,-10.9]],[[505.5,-6.8],[506.5,-7.8]],
  [[529.5,-5.7],[530.5,-6.9]],[[553.5,-11.4],[554.5,-12.8]],[[577.5,-8.6],[578.5,-10]],[[601.5,-6.4],[602.5,-7.8]],
  [[650,-6.9],[650.6,-7.7],[651.2,-6.9]],[[674.6,-8.1],[675,-8.6],[675.4,-9.7]],[[698.6,-2.3],[699,-2.6],[699.4,-3.7]],
  [[722.6,-3.6],[723,-3.9],[723.4,-4.9]],
];

type Row = { h: number; t: number | null };
const toRows = (pts: Pt[]): Row[] => pts.map(([h, t]) => ({ h, t }));
const segRows = (segs: Pt[][]): Row[] => {
  const rows: Row[] = [];
  segs.forEach((s, i) => {
    if (i > 0) {
      const prev = segs[i - 1];
      rows.push({ h: (prev[prev.length - 1][0] + s[0][0]) / 2, t: null });
    }
    s.forEach(([h, t]) => rows.push({ h, t }));
  });
  return rows;
};

const FONT = '"Liberation Sans", Arial, Helvetica, sans-serif';
const W = 1918;
const H = 861;
const X_MIN = -28.8;
const X_MAX = 769;
const Y_MIN = -62.4;
const Y_MAX = 2.4;
const LEGEND_H = 175;

const seriesRows: Row[][] = [
  toRows(providerA), segRows(providerB), toRows(providerC), toRows(providerD),
  toRows(meteoblue), toRows(providerF), toRows(providerG), toRows(providerH),
];

const XTick = (props: any) => {
  const { x, payload } = props;
  return (
    <text x={x} y={750} textAnchor="middle" fontSize={42} fontFamily={FONT} fill="#000">
      {String(payload.value)}
    </text>
  );
};

const YTick = (props: any) => {
  const { y, payload } = props;
  if (!yLabelled.includes(payload.value)) return <g />;
  return (
    <text x={147} y={y} transform={`rotate(-90, 147, ${y})`} textAnchor="middle" fontSize={42} fontFamily={FONT} fill="#000">
      {String(payload.value)}
    </text>
  );
};

const legendCols = [
  { x1: 338, x2: 418, tx: 454 },
  { x1: 692, x2: 772, tx: 807 },
  { x1: 1046, x2: 1126, tx: 1163 },
  { x1: 1398, x2: 1478, tx: 1516 },
];
const legendRows = [{ ly: 78, ty: 93 }, { ly: 129.5, ty: 145 }];

const LegendContent = () => (
  <svg width={W} height={LEGEND_H} style={{ display: 'block', overflow: 'visible' }}>
    <text x={1068.8} y={47} textAnchor="middle" fontSize={50} fontWeight="bold" fontFamily={FONT} fill="#000">
      {chartTitle}
    </text>
    {seriesNames.map((name, i) => {
      const c = legendCols[Math.floor(i / 2)];
      const r = legendRows[i % 2];
      return (
        <g key={name}>
          <line x1={c.x1} x2={c.x2} y1={r.ly} y2={r.ly} stroke={seriesColors[i]} strokeWidth={3} />
          <text x={c.tx} y={r.ty} fontSize={42} fontFamily={FONT} fill="#000">{name}</text>
        </g>
      );
    })}
  </svg>
);

export default function App() {
  return (
    <div style={{ position: 'fixed', left: 0, top: 0, width: W, height: H, background: '#fff' }}>
      <LineChart width={W} height={H} margin={{ top: 152.7, right: 0, bottom: 0, left: 0 }}>
        <XAxis
          type="number"
          dataKey="h"
          domain={[X_MIN, X_MAX]}
          allowDataOverflow
          ticks={xTicks}
          interval={0}
          height={202.7}
          axisLine={false}
          tickLine={{ stroke: '#000', strokeWidth: 3 }}
          tickSize={25}
          tickMargin={0}
          tick={<XTick />}
        >
          <Label
            content={() => (
              <text x={1068.8} y={851} textAnchor="middle" fontSize={42} fontFamily={FONT} fill="#000">{xTitle}</text>
            )}
          />
        </XAxis>
        <YAxis
          type="number"
          domain={[Y_MIN, Y_MAX]}
          allowDataOverflow
          ticks={yTicks}
          interval={0}
          width={207.6}
          axisLine={false}
          tickLine={{ stroke: '#000', strokeWidth: 3 }}
          tickSize={25}
          tickMargin={0}
          tick={<YTick />}
        >
          <Label
            content={() => (
              <text x={46} y={405.5} transform="rotate(-90, 46, 405.5)" textAnchor="middle" fontSize={42} fontFamily={FONT} fill="#000">{yTitle}</text>
            )}
          />
        </YAxis>
        <Legend
          layout="horizontal"
          verticalAlign="middle"
          align="center"
          content={<LegendContent />}
          wrapperStyle={{ position: 'absolute', top: 0, left: 0, width: W, height: LEGEND_H, pointerEvents: 'none' }}
        />
        {seriesRows.map((rows, i) => (
          <Line
            key={seriesNames[i]}
            name={seriesNames[i]}
            data={rows}
            dataKey="t"
            type="linear"
            stroke={seriesColors[i]}
            strokeWidth={3}
            strokeLinejoin="round"
            strokeLinecap="round"
            dot={false}
            activeDot={false}
            connectNulls={false}
            isAnimationActive={false}
          />
        ))}
        <Line
          name="marks"
          data={segRows(blackMarks)}
          dataKey="t"
          type="linear"
          stroke="#000"
          strokeWidth={3}
          strokeLinecap="round"
          dot={false}
          activeDot={false}
          connectNulls={false}
          isAnimationActive={false}
          legendType="none"
        />
        <ReferenceLine y={Y_MAX} stroke="#000" strokeWidth={3} ifOverflow="visible" />
        <ReferenceLine y={Y_MIN} stroke="#000" strokeWidth={3} ifOverflow="visible" />
        <ReferenceLine x={X_MIN} stroke="#000" strokeWidth={3} ifOverflow="visible" />
      </LineChart>
    </div>
  );
}
